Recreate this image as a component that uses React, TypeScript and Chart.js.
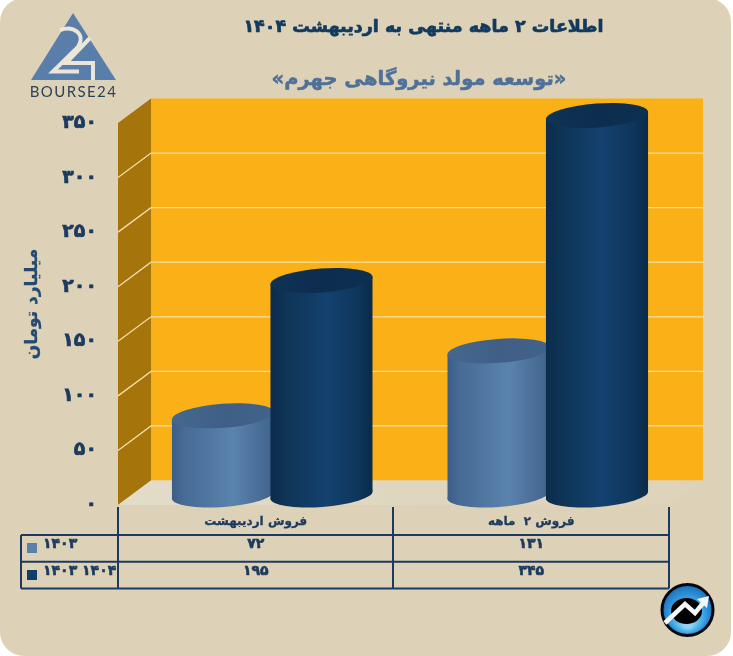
import React, { useEffect, useRef } from "react";
import { Chart, registerables } from "chart.js";

Chart.register(...registerables);

const categories = ["فروش اردیبهشت", "فروش ۲  ماهه"];
const series1403 = [72, 131];
const series1404 = [195, 345];
const legend1403 = "۱۴۰۳";
const legend1404 = "۱۴۰۴ ۱۴۰۳";
const titleText = "اطلاعات ۲ ماهه منتهی به اردیبهشت ۱۴۰۴";
const subtitleText = "«توسعه مولد نیروگاهی جهرم»";
const yAxisTitle = "میلیارد تومان";
const logoText = "BOURSE24";

const FA = "'DejaVu Sans', sans-serif";
const NAVY = "#1c3a5e";
const DX = 33;
const DY = -24.5;
const TILT = (-4.2 * Math.PI) / 180;
const RY = 12;

const toFa = (n: number) => String(n).replace(/\d/g, (d) => "۰۱۲۳۴۵۶۷۸۹"[+d]);

const bodyStops = [
  [["0", "#3c5e86"], ["0.12", "#466b95"], ["0.6", "#5a83ae"], ["1", "#3f628a"]],
  [["0", "#0b2c4c"], ["0.2", "#0f3659"], ["0.55", "#134170"], ["0.85", "#0f365c"], ["1", "#0a2a48"]],
];
const capStops = [
  [["0", "#45688f"], ["0.5", "#405f86"], ["1", "#41628a"]],
  [["0", "#0f3256"], ["0.5", "#0c2d4e"], ["1", "#0d2f50"]],
];

function grad(ctx: CanvasRenderingContext2D, x0: number, x1: number, stops: string[][]) {
  const g = ctx.createLinearGradient(x0, 0, x1, 0);
  stops.forEach(([o, c]) => g.addColorStop(+o, c));
  return g;
}

function boldText(ctx: CanvasRenderingContext2D, s: string, x: number, y: number, w: number) {
  ctx.strokeStyle = ctx.fillStyle as string;
  ctx.lineWidth = w;
  ctx.lineJoin = "round";
  ctx.strokeText(s, x, y);
  ctx.fillText(s, x, y);
}

function drawLogo(ctx: CanvasRenderingContext2D) {
  ctx.save();
  ctx.fillStyle = "#5a7eaa";
  ctx.beginPath();
  ctx.moveTo(73, 13);
  ctx.lineTo(116, 80);
  ctx.lineTo(31, 80);
  ctx.closePath();
  ctx.fill();
  ctx.strokeStyle = "#ece6d8";
  ctx.lineWidth = 4;
  ctx.lineJoin = "miter";
  ctx.beginPath();
  ctx.moveTo(60, 30);
  ctx.bezierCurveTo(74, 25, 86, 34, 78, 47);
  ctx.lineTo(53, 71.5);
  ctx.lineTo(79, 71.5);
  ctx.stroke();
  ctx.beginPath();
  ctx.moveTo(90, 38);
  ctx.lineTo(66, 63);
  ctx.lineTo(93, 63);
  ctx.lineTo(93, 80);
  ctx.stroke();
  ctx.fillStyle = "#2c4256";
  ctx.font = "400 15px Lato, sans-serif";
  (ctx as any).letterSpacing = "1.4px";
  ctx.direction = "ltr";
  ctx.textAlign = "center";
  ctx.textBaseline = "middle";
  ctx.fillText(logoText, 73.5, 92.5);
  (ctx as any).letterSpacing = "0px";
  ctx.restore();
}

function drawBadge(ctx: CanvasRenderingContext2D) {
  const cx = 687.5;
  const cy = 610;
  ctx.save();
  const g = ctx.createRadialGradient(cx, cy + 14, 4, cx, cy, 27);
  g.addColorStop(0, "#8fd6f6");
  g.addColorStop(0.55, "#3ba4e6");
  g.addColorStop(1, "#1468b4");
  ctx.fillStyle = g;
  ctx.strokeStyle = "#06060e";
  ctx.lineWidth = 3;
  ctx.beginPath();
  ctx.arc(cx, cy, 25.5, 0, Math.PI * 2);
  ctx.fill();
  ctx.stroke();
  ctx.fillStyle = "#000";
  ctx.beginPath();
  ctx.ellipse(cx - 1, cy + 1, 15.5, 13, 0, 0, Math.PI * 2);
  ctx.fill();
  ctx.strokeStyle = "#f4f6fa";
  ctx.lineWidth = 4.5;
  ctx.lineJoin = "miter";
  ctx.beginPath();
  ctx.moveTo(665, 623);
  ctx.lineTo(685, 604);
  ctx.lineTo(695, 613);
  ctx.lineTo(704, 602);
  ctx.stroke();
  ctx.fillStyle = "#f4f6fa";
  ctx.beginPath();
  ctx.moveTo(709, 596);
  ctx.lineTo(707, 608);
  ctx.lineTo(697, 599);
  ctx.closePath();
  ctx.fill();
  ctx.restore();
}

const scenePlugin = {
  id: "scene",
  beforeDraw(chart: any) {
    const { ctx, chartArea: a, scales } = chart;
    ctx.save();
    ctx.fillStyle = "#ddd2b8";
    ctx.beginPath();
    ctx.roundRect(0, -2, 731, 658, 24);
    ctx.fill();

    // left wall
    ctx.fillStyle = "#a5740b";
    ctx.beginPath();
    ctx.moveTo(a.left, a.top);
    ctx.lineTo(a.left + DX, a.top + DY);
    ctx.lineTo(a.left + DX, a.bottom + DY);
    ctx.lineTo(a.left, a.bottom);
    ctx.closePath();
    ctx.fill();
    // back wall
    ctx.fillStyle = "#fab017";
    ctx.fillRect(a.left + DX, a.top + DY, a.width + 1, a.height);
    // floor
    const floor = ctx.createLinearGradient(a.left, 0, a.right + DX, 0);
    floor.addColorStop(0, "#e3dcc9");
    floor.addColorStop(0.5, "#dfd6c0");
    floor.addColorStop(1, "#ded3ba");
    ctx.fillStyle = floor;
    ctx.beginPath();
    ctx.moveTo(a.left, a.bottom);
    ctx.lineTo(a.left + DX, a.bottom + DY);
    ctx.lineTo(a.right + DX + 1, a.bottom + DY);
    ctx.lineTo(a.right, a.bottom);
    ctx.closePath();
    ctx.fill();
    // grid lines
    ctx.strokeStyle = "#f3dfa6";
    ctx.lineWidth = 1.3;
    scales.y.ticks.forEach((t: any) => {
      if (t.value <= 0 || t.value >= 350) return;
      const y = scales.y.getPixelForValue(t.value);
      ctx.beginPath();
      ctx.moveTo(a.left, y);
      ctx.lineTo(a.left + DX, y + DY);
      ctx.lineTo(a.right + DX + 2, y + DY);
      ctx.stroke();
    });

    // titles
    ctx.direction = "rtl";
    ctx.textAlign = "center";
    ctx.textBaseline = "middle";
    ctx.fillStyle = "#123a5e";
    ctx.font = `bold 17.5px ${FA}`;
    boldText(ctx, titleText, 423.5, 27, 0.7);
    ctx.fillStyle = "#4f7099";
    ctx.font = `bold 19.5px ${FA}`;
    boldText(ctx, subtitleText, 419, 80, 0.5);

    // y axis title
    ctx.save();
    ctx.translate(33, 304);
    ctx.rotate(-Math.PI / 2);
    ctx.fillStyle = "#234a72";
    ctx.font = `bold 17px ${FA}`;
    boldText(ctx, yAxisTitle, 0, 0, 0.3);
    ctx.restore();

    drawLogo(ctx);
    drawBadge(ctx);
    ctx.restore();
  },
  beforeDatasetDraw() {
    return false;
  },
  afterDatasetsDraw(chart: any) {
    const { ctx } = chart;
    [0, 1].forEach((di) => {
      const meta = chart.getDatasetMeta(di);
      meta.data.forEach((el: any) => {
        const w = el.width;
        const cx = el.x + DX / 2;
        const x0 = cx - w / 2;
        const x1 = cx + w / 2;
        const lift = (w / 2) * Math.sin(-TILT);
        ctx.save();
        ctx.translate(DX / 2, 0);
        const gBody = grad(ctx, el.x - w / 2, el.x + w / 2, bodyStops[di]);
        ctx.fillStyle = gBody;
        ctx.beginPath();
        ctx.ellipse(el.x, el.base, w / 2, RY, TILT, 0, Math.PI * 2);
        ctx.fill();
        // cut the flat bar to the tilted tangent line of both ellipses
        ctx.beginPath();
        ctx.moveTo(el.x - w / 2, el.y + lift);
        ctx.lineTo(el.x + w / 2, el.y - lift);
        ctx.lineTo(el.x + w / 2, el.base - lift);
        ctx.lineTo(el.x - w / 2, el.base + lift);
        ctx.closePath();
        ctx.clip();
        const opts = el.options;
        el.options = Object.create(opts, { backgroundColor: { value: gBody } });
        const y = el.y;
        const base = el.base;
        el.y = y - 6;
        el.base = base + 6;
        el.draw(ctx);
        el.y = y;
        el.base = base;
        el.options = opts;
        ctx.restore();
        ctx.save();
        ctx.fillStyle = grad(ctx, x0, x1, capStops[di]);
        ctx.beginPath();
        ctx.ellipse(cx, el.y, w / 2, RY, TILT, 0, Math.PI * 2);
        ctx.fill();
        ctx.restore();
      });
    });
  },
  afterDraw(chart: any) {
    const { ctx, chartArea: a, scales } = chart;
    const xs = [21, a.left, 393, a.right];
    const rows = [535, 561.7, 588.5];
    ctx.save();
    ctx.strokeStyle = NAVY;
    ctx.lineWidth = 2;
    ctx.beginPath();
    rows.forEach((y) => {
      ctx.moveTo(xs[0], y);
      ctx.lineTo(xs[3], y);
    });
    ctx.moveTo(xs[0], rows[0]);
    ctx.lineTo(xs[0], rows[2]);
    [xs[1], xs[2], xs[3]].forEach((x) => {
      ctx.moveTo(x, 507);
      ctx.lineTo(x, rows[2]);
    });
    ctx.stroke();

    ctx.direction = "rtl";
    ctx.textBaseline = "middle";
    ctx.fillStyle = NAVY;
    ctx.font = `bold 14px ${FA}`;
    ctx.textAlign = "center";
    categories.forEach((_, i) => {
      const x = scales.x.getPixelForValue(i);
      boldText(ctx, toFa(series1403[i]), x, 544, 0.6);
      boldText(ctx, toFa(series1404[i]), x, 571, 0.6);
    });
    ctx.textAlign = "left";
    boldText(ctx, legend1403, 43, 544, 0.6);
    boldText(ctx, legend1404, 43, 571, 0.6);
    ctx.fillStyle = "#5c80aa";
    ctx.fillRect(27, 543, 10, 10);
    ctx.fillStyle = "#0f3f6c";
    ctx.fillRect(27, 570, 10, 10);
    ctx.restore();
  },
};

export default function App() {
  const ref = useRef<HTMLCanvasElement>(null);
  useEffect(() => {
    document.body.style.margin = "0";
    document.body.style.background = "#fff";
    const chart = new Chart(ref.current!, {
      type: "bar",
      data: {
        labels: categories,
        datasets: [
          { label: "۱۴۰۳", data: series1403, backgroundColor: "#5c80aa", yAxisID: "yBars", clip: false },
          { label: "۱۴۰۴", data: series1404, backgroundColor: "#0f3f6c", yAxisID: "yBars", clip: false },
        ],
      } as any,
      plugins: [scenePlugin as any],
      options: {
        responsive: false,
        animation: false,
        categoryPercentage: 0.715,
        barPercentage: 1.04,
        layout: { autoPadding: false, padding: { top: 123, right: 64, bottom: 121, left: 0 } },
        plugins: { legend: { display: false }, title: { display: false }, tooltip: { enabled: false } },
        scales: {
          x: {
            grid: { display: false, drawTicks: false },
            border: { display: false },
            afterFit: (s: any) => {
              s.height = 30;
            },
            ticks: {
              autoSkip: false,
              maxRotation: 0,
              padding: 10,
              color: NAVY,
              textStrokeColor: NAVY,
              textStrokeWidth: 0.3,
              font: { family: FA, size: 12, weight: "bold" },
            },
          },
          y: {
            min: 0,
            max: 350,
            grid: { display: false, drawTicks: false },
            border: { display: false },
            afterFit: (s: any) => {
              s.width = 118;
            },
            ticks: {
              stepSize: 50,
              padding: 21,
              color: NAVY,
              textStrokeColor: NAVY,
              textStrokeWidth: 0.7,
              font: { family: FA, size: 19, weight: "bold" },
              callback: (v: any) => toFa(Number(v)),
            },
          },
          yBars: {
            display: false,
            min: -9.09,
            max: 338.18,
          },
        },
      } as any,
    });
    return () => chart.destroy();
  }, []);
  return <canvas ref={ref} width={733} height={656} dir="rtl" style={{ display: "block" }} />;
}
